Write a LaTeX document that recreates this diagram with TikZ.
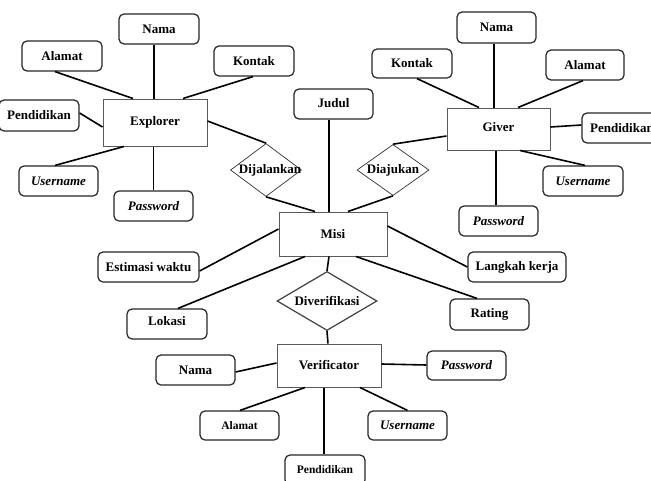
\documentclass[tikz,border=0pt]{standalone}
\usepackage{fontspec}
\setmainfont{Liberation Serif}
\usetikzlibrary{shapes.geometric}
\tikzset{
  attr/.style={draw=black!85, line width=1.2pt, rounded corners=5pt, inner sep=0pt,
    minimum width=80pt, minimum height=30pt, font=\fontsize{13}{15}\selectfont\bfseries},
  attrsm/.style={attr, font=\fontsize{11.5}{13}\selectfont\bfseries},
  ent/.style={draw=black!65, line width=1pt, inner sep=0pt,
    font=\fontsize{13}{15}\selectfont\bfseries},
  rel/.style={diamond, draw=black!80, line width=0.7pt, inner sep=0pt,
    font=\fontsize{13}{15}\selectfont\bfseries},
  conn/.style={line width=1.6pt, black}
}
\begin{document}
\begin{tikzpicture}[x=1pt,y=-1pt]
\useasboundingbox (0,0) rectangle (651,480);
\clip (0,0) rectangle (651,480);
\fill[white] (0,0) rectangle (651,480);

% Explorer
\node[ent, minimum width=104pt, minimum height=47pt] (explorer) at (155,122.5) {Explorer};
\node[attr] (eNama) at (159,29) {Nama};
\node[attr] (eAlamat) at (62,56) {\raisebox{1pt}{Alamat}};
\node[attr] (eKontak) at (254,61) {Kontak};
\node[attr, minimum height=31pt] (ePend) at (39,115.5) {Pendidikan};
\node[attr, minimum width=79pt] (eUser) at (58.5,181) {\itshape Username};
\node[attr, minimum width=79pt] (ePass) at (153.5,206) {\itshape Password};
\node[rel, minimum width=71pt, minimum height=53pt] (dijalankan) at (266,170) {\makebox[0pt]{\hspace{8pt}Dijalankan}};

% Giver
\node[ent, minimum width=103pt, minimum height=42pt] (giver) at (498.5,129) {\raisebox{4pt}{Giver}};
\node[attr, minimum width=79pt, minimum height=31pt] (gNama) at (496.5,27.5) {Nama};
\node[attr, minimum height=29pt] (gKontak) at (412,63.5) {Kontak};
\node[attr, minimum width=78pt] (gAlamat) at (585,65) {Alamat};
\node[attr] (gPend) at (622,128) {Pendidikan};
\node[attr] (gUser) at (583,181) {\itshape Username};
\node[attr, minimum width=79pt] (gPass) at (498.5,221) {\itshape Password};
\node[rel, minimum width=72pt, minimum height=51pt] (diajukan) at (393,170) {\makebox[0pt]{Diajukan}};

% Misi
\node[ent, minimum width=108pt, minimum height=44pt] (misi) at (333,234) {Misi};
\node[attr, minimum width=79pt] (judul) at (333.5,104) {\raisebox{3pt}{Judul}};
\node[attr, minimum width=101pt] (estimasi) at (148.5,267) {Estimasi waktu};
\node[attr] (lokasi) at (167,324) {\raisebox{7pt}{Lokasi}};
\node[attr, minimum width=98pt] (langkah) at (517,267) {Langkah kerja};
\node[attr, minimum width=79pt, minimum height=31pt] (rating) at (489.5,314.5) {Rating};
\node[rel, draw=black!75, line width=1.2pt, minimum width=100pt, minimum height=59pt] (diverifikasi) at (327,301) {\makebox[0pt]{Diverifikasi}};

% Verificator
\node[ent, minimum width=104pt, minimum height=43pt] (verificator) at (329,365.5) {\raisebox{1pt}{Verificator}};
\node[attr, minimum width=79pt] (vNama) at (195.5,370) {Nama};
\node[attrsm, minimum width=79pt, minimum height=29pt] (vAlamat) at (239.5,425.5) {Alamat};
\node[attrsm] (vPend) at (325,470) {Pendidikan};
\node[attr, minimum width=79pt, minimum height=29pt] (vUser) at (407.5,425.5) {\itshape Username};
\node[attr, minimum width=79pt, minimum height=29pt] (vPass) at (466.5,365.5) {\itshape Password};

% Connectors: Explorer
\draw[conn] ([xshift=-7pt]eAlamat.south) -- ([xshift=-22pt]explorer.north);
\draw[conn] ([xshift=-5pt]eNama.south) -- ([xshift=-1pt]explorer.north);
\draw[conn] ([xshift=-1pt]eKontak.south) -- ([xshift=28pt]explorer.north);
\draw[conn] ([yshift=2.5pt]ePend.east) -- ([yshift=-4.5pt]explorer.west);
\draw[conn] ([xshift=-3.5pt]eUser.north) -- ([xshift=-31pt]explorer.south);
\draw[conn] (ePass.north) -- ([xshift=-1.5pt]explorer.south);
\draw[conn] ([yshift=1.5pt]explorer.east) -- (dijalankan.north);
\draw[conn] (dijalankan.south) -- ([xshift=-18pt]misi.north);

% Connectors: Giver
\draw[conn] ([xshift=5pt]gKontak.south) -- ([xshift=-19.5pt]giver.north);
\draw[conn] ([xshift=-2.5pt]gNama.south) -- ([xshift=-4.5pt]giver.north);
\draw[conn] ([xshift=-2pt]gAlamat.south) -- ([xshift=19.5pt]giver.north);
\draw[conn] ([yshift=2pt]giver.east) -- ([yshift=3pt]gPend.west);
\draw[conn] ([xshift=2pt]gUser.north) -- ([xshift=21.5pt]giver.south);
\draw[conn] ([xshift=-2.5pt]gPass.north) -- ([xshift=-2.5pt]giver.south);
\draw[conn] ([yshift=-7pt]giver.west) -- (diajukan.north);
\draw[conn] (diajukan.south) -- ([xshift=15pt]misi.north);

% Connectors: Misi
\draw[conn] ([xshift=-4.5pt]judul.south) -- ([xshift=-4pt]misi.north);
\draw[conn] ([yshift=-4pt]estimasi.east) -- ([yshift=5pt]misi.west);
\draw[conn] ([xshift=11pt]lokasi.north) -- ([xshift=-28pt]misi.south);
\draw[conn] ([yshift=8pt]misi.east) -- (langkah.west);
\draw[conn] ([xshift=23pt]misi.south) -- ([xshift=-12.5pt]rating.north);
\draw[conn] ([xshift=-4pt]misi.south) -- (diverifikasi.north);
\draw[conn] (diverifikasi.south) -- ([xshift=-1pt]verificator.north);

% Connectors: Verificator
\draw[conn] ([yshift=-2pt]vNama.east) -- ([yshift=2.5pt]verificator.west);
\draw[conn] ([xshift=0.5pt]vAlamat.north) -- ([xshift=-24pt]verificator.south);
\draw[conn] ([xshift=-1pt]vPend.north) -- ([xshift=-5pt]verificator.south);
\draw[conn] ([xshift=31pt]verificator.south) -- (vUser.north);
\draw[conn] ([yshift=1.5pt]verificator.east) -- ([yshift=0.5pt]vPass.west);
\end{tikzpicture}
\end{document}
